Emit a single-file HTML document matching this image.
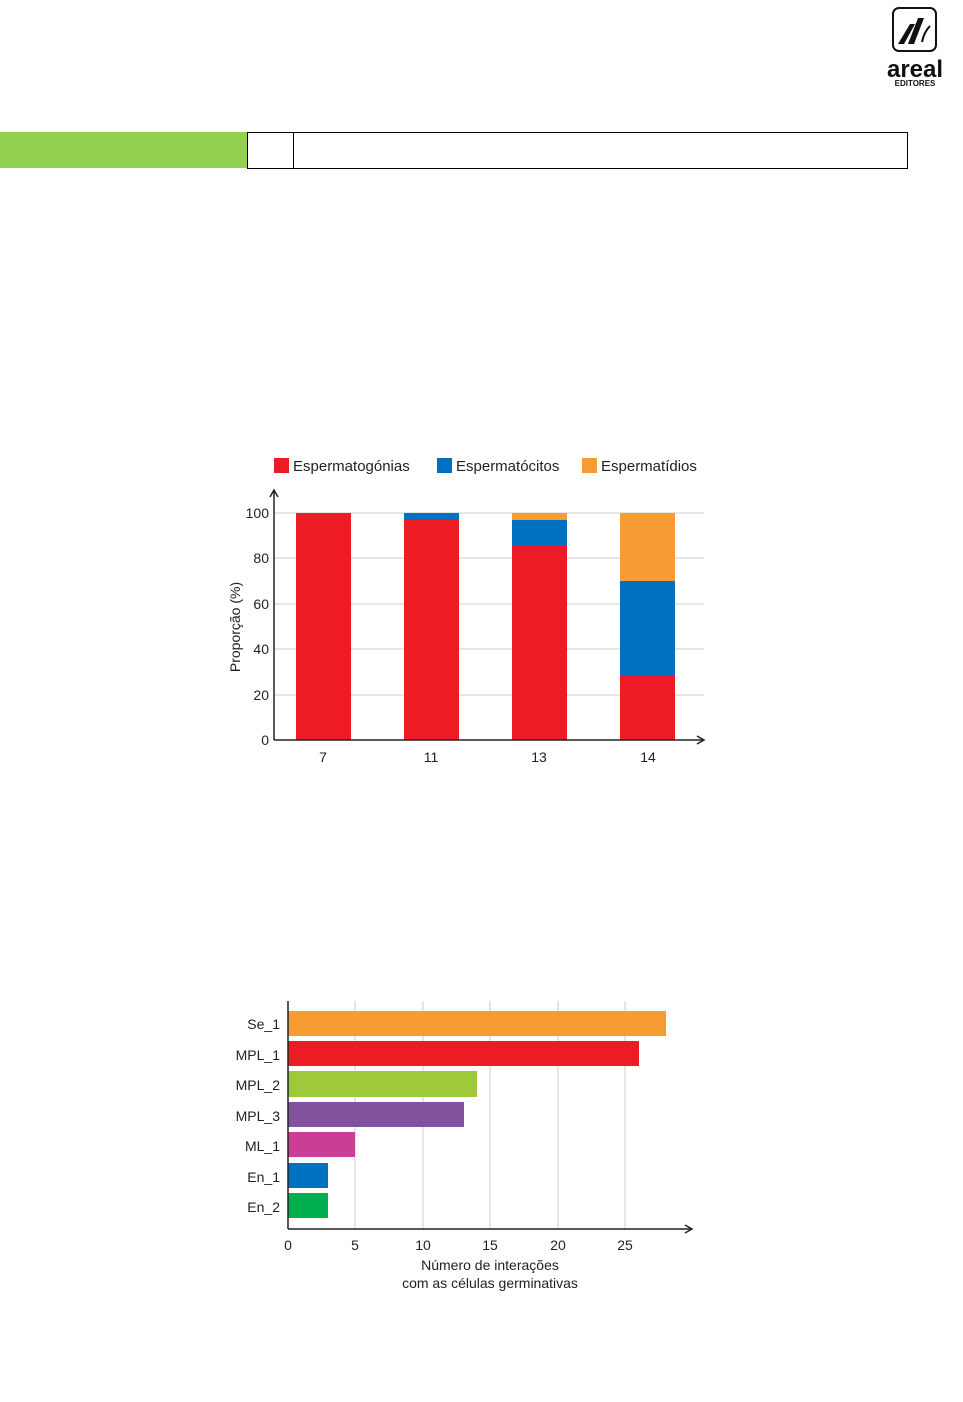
<!DOCTYPE html>
<html><head><meta charset="utf-8"><style>
body{margin:0;width:963px;height:1402px;background:#fff;overflow:hidden;font-family:"Liberation Sans",sans-serif}
svg{position:absolute;left:0;top:0}
</style></head><body>
<svg width="963" height="1402" xmlns="http://www.w3.org/2000/svg" font-family="Liberation Sans, sans-serif">
<!-- logo -->
<rect x="893" y="8" width="43" height="43" rx="6" fill="#fff" stroke="#111" stroke-width="2"/>
<polygon points="898,44 910,24 915,24 904,44" fill="#111"/>
<polygon points="908,44 918,18 924,18 914,44" fill="#111"/>
<path d="M922,42 q2,-10 8,-16" stroke="#111" stroke-width="2" fill="none"/>
<text x="915" y="77" font-size="24" font-weight="bold" text-anchor="middle" fill="#111">areal</text>
<text x="915" y="86" font-size="8" font-weight="bold" text-anchor="middle" fill="#111">EDITORES</text>
<!-- header bar -->
<rect x="0" y="132" width="247" height="36" fill="#92d050"/>
<rect x="247.5" y="132.5" width="46" height="36" fill="none" stroke="#000"/>
<rect x="293.5" y="132.5" width="614" height="36" fill="none" stroke="#000"/>
<!-- chart 1 legend -->
<g font-size="15" fill="#222">
<rect x="274" y="458" width="15" height="15" fill="#ed1c24"/><text x="293" y="471">Espermatogónias</text>
<rect x="437" y="458" width="15" height="15" fill="#0070c0"/><text x="456" y="471">Espermatócitos</text>
<rect x="582" y="458" width="15" height="15" fill="#f79c34"/><text x="601" y="471">Espermatídios</text>
</g>
<g stroke="#ccc" stroke-width="1">
<line x1="274" y1="513" x2="704" y2="513"/><line x1="274" y1="558" x2="704" y2="558"/>
<line x1="274" y1="604" x2="704" y2="604"/><line x1="274" y1="649" x2="704" y2="649"/>
<line x1="274" y1="695" x2="704" y2="695"/>
</g>
<rect x="296" y="513" width="55" height="227" fill="#ed1c24"/>
<rect x="404" y="513" width="55" height="7" fill="#0070c0"/><rect x="404" y="520" width="55" height="220" fill="#ed1c24"/>
<rect x="512" y="513" width="55" height="7" fill="#f79c34"/><rect x="512" y="520" width="55" height="25" fill="#0070c0"/><rect x="512" y="545" width="55" height="195" fill="#ed1c24"/>
<rect x="620" y="513" width="55" height="68" fill="#f79c34"/><rect x="620" y="581" width="55" height="94" fill="#0070c0"/><rect x="620" y="675" width="55" height="65" fill="#ed1c24"/>
<g stroke="#222" stroke-width="1.5" fill="none">
<line x1="274" y1="491" x2="274" y2="740"/><line x1="274" y1="740" x2="703" y2="740"/>
<polyline points="270,497 274,490 278,497"/><polyline points="697,736 704,740 697,744"/>
</g>
<g font-size="14" fill="#222" text-anchor="end">
<text x="269" y="518">100</text><text x="269" y="563">80</text><text x="269" y="609">60</text>
<text x="269" y="654">40</text><text x="269" y="700">20</text><text x="269" y="745">0</text>
</g>
<g font-size="14" fill="#222" text-anchor="middle">
<text x="323" y="762">7</text><text x="431" y="762">11</text><text x="539" y="762">13</text><text x="648" y="762">14</text>
</g>
<text transform="translate(240,627) rotate(-90)" font-size="14" fill="#222" text-anchor="middle">Proporção (%)</text>
<!-- chart 2 -->
<g stroke="#ccc" stroke-width="1">
<line x1="355" y1="1001" x2="355" y2="1229"/><line x1="423" y1="1001" x2="423" y2="1229"/>
<line x1="490" y1="1001" x2="490" y2="1229"/><line x1="558" y1="1001" x2="558" y2="1229"/>
<line x1="625" y1="1001" x2="625" y2="1229"/>
</g>
<rect x="288" y="1011" width="378" height="25" fill="#f79c34"/>
<rect x="288" y="1041" width="351" height="25" fill="#ed1c24"/>
<rect x="288" y="1071" width="189" height="26" fill="#9dc93b"/>
<rect x="288" y="1102" width="176" height="25" fill="#82529f"/>
<rect x="288" y="1132" width="67" height="25" fill="#cb3e96"/>
<rect x="288" y="1163" width="40" height="25" fill="#0070c0"/>
<rect x="288" y="1193" width="40" height="25" fill="#00b050"/>
<g stroke="#222" stroke-width="1.5" fill="none">
<line x1="288" y1="1001" x2="288" y2="1229"/><line x1="288" y1="1229" x2="691" y2="1229"/>
<polyline points="685,1225 692,1229 685,1233"/>
</g>
<g font-size="14" fill="#222" text-anchor="end">
<text x="280" y="1029">Se_1</text><text x="280" y="1060">MPL_1</text><text x="280" y="1090">MPL_2</text>
<text x="280" y="1121">MPL_3</text><text x="280" y="1151">ML_1</text><text x="280" y="1182">En_1</text><text x="280" y="1212">En_2</text>
</g>
<g font-size="14" fill="#222" text-anchor="middle">
<text x="288" y="1250">0</text><text x="355" y="1250">5</text><text x="423" y="1250">10</text>
<text x="490" y="1250">15</text><text x="558" y="1250">20</text><text x="625" y="1250">25</text>
<text x="490" y="1270">Número de interações</text><text x="490" y="1288">com as células germinativas</text>
</g>
</svg>
</body></html>
